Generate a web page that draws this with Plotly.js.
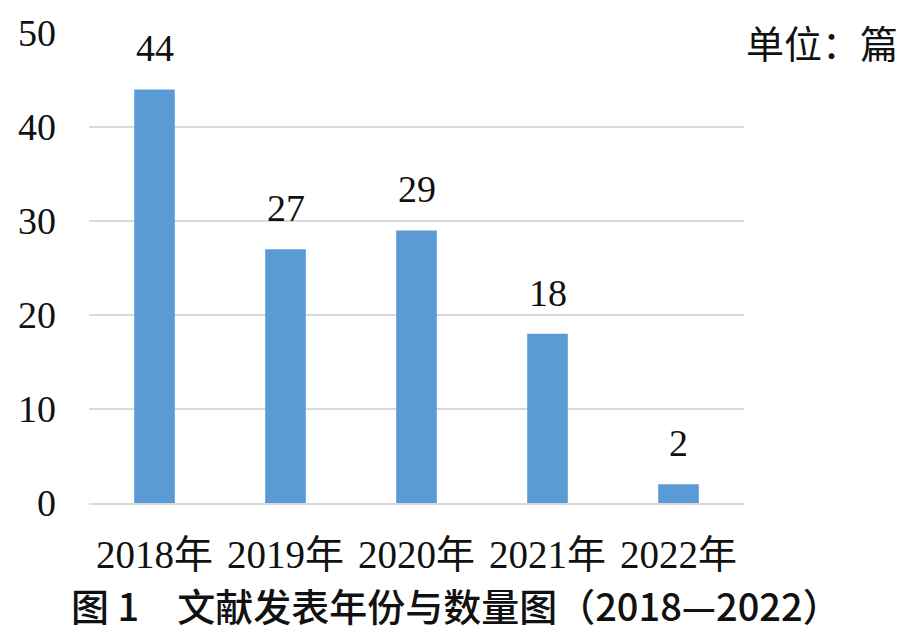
<!DOCTYPE html>
<html>
<head>
<meta charset="utf-8">
<script src="https://cdn.plot.ly/plotly-3.0.1.min.js"></script>
<style>html,body{margin:0;padding:0;background:#fff;}#chart{width:903px;height:633px;}</style>
</head>
<body>
<div id="chart"></div>
<script>
const categories = ["2018年", "2019年", "2020年", "2021年", "2022年"];
const counts = [44, 27, 29, 18, 2];
const yTicks = [0, 10, 20, 30, 40, 50];

const serif = "'Liberation Serif', 'Times New Roman', 'Noto Sans CJK SC', serif";

const labelAnnotations = categories.map((c, i) => ({
  x: c, y: counts[i], xref: "x", yref: "y",
  text: String(counts[i]), showarrow: false,
  yanchor: "bottom", yshift: 18,
  font: {family: serif, size: 38, color: "#111"}
}));

const data = [{
  type: "bar",
  x: categories,
  y: counts,
  marker: {color: "#5b9bd5"},
  hoverinfo: "skip"
}];

const layout = {
  width: 903, height: 633,
  margin: {l: 89, r: 159, t: 33, b: 130},
  paper_bgcolor: "#fff", plot_bgcolor: "#fff",
  bargap: 0.69,
  showlegend: false,
  xaxis: {
    type: "category",
    showgrid: false,
    showline: true, linecolor: "#d9d9d9", linewidth: 2,
    ticks: "",
    ticklabelstandoff: 16,
    tickfont: {family: serif, size: 39, color: "#111"}
  },
  yaxis: {
    range: [0, 50],
    tickvals: yTicks,
    showgrid: true, gridcolor: "#d9d9d9", gridwidth: 2,
    zeroline: false, showline: false,
    ticks: "",
    ticklabelstandoff: 32,
    tickfont: {family: serif, size: 38, color: "#111"}
  },
  annotations: labelAnnotations.concat([
    {
      xref: "paper", yref: "paper", x: 1.0, y: 0.981,
      xanchor: "left", yanchor: "middle",
      text: "单位：篇", showarrow: false,
      font: {family: "'Noto Sans CJK SC', sans-serif", size: 38, color: "#111"}
    },
    {
      xref: "paper", yref: "paper", x: 0.56, y: -0.217,
      xanchor: "center", yanchor: "middle",
      text: "图 1　文献发表年份与数量图（2018—2022）", showarrow: false,
      font: {family: "'Noto Sans CJK SC', sans-serif", size: 38, color: "#111", weight: 500}
    }
  ])
};

Plotly.newPlot("chart", data, layout, {staticPlot: true, displayModeBar: false});
</script>
</body>
</html>
